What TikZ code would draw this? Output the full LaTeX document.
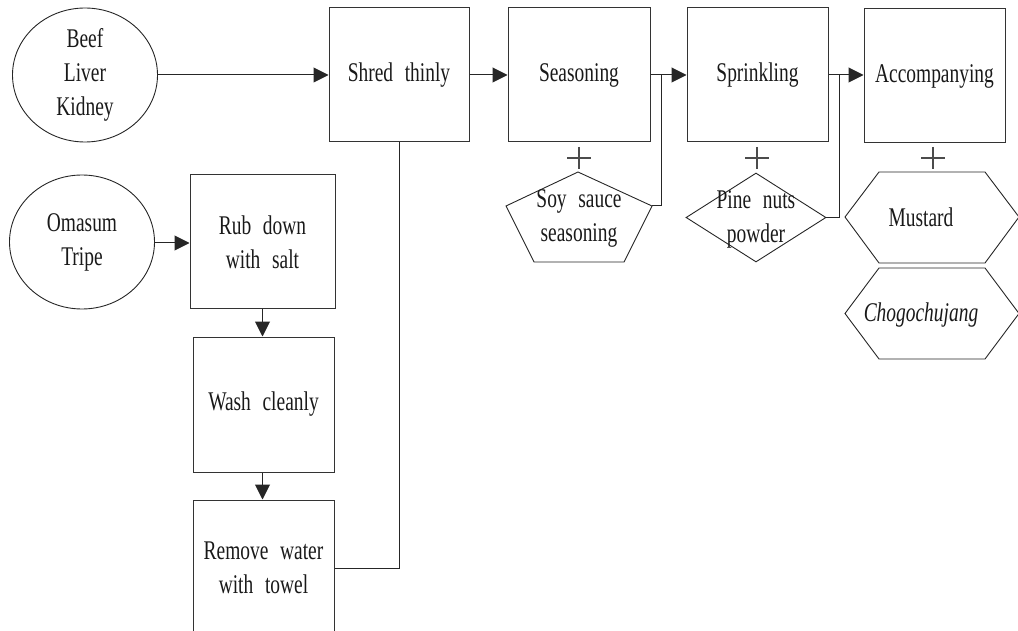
\documentclass[tikz,border=0pt]{standalone}
\usepackage{fontspec}
\setmainfont{Liberation Serif}[FakeStretch=0.72, WordSpace=2.4]
\usetikzlibrary{arrows.meta,shapes.geometric}

\tikzset{
  txt/.style={align=center, inner sep=0pt, text=black!90},
  stepbox/.style={draw=black!80, line width=1pt, rectangle, txt},
  src/.style={draw=black!85, line width=0.9pt, ellipse, txt, minimum width=145pt, minimum height=134pt},
  flow/.style={draw=black!85, line width=1pt, -{Triangle[length=15pt,width=15pt]}},
  link/.style={draw=black!85, line width=1pt},
  outline/.style={draw=black!85, line width=0.9pt, line join=miter},
  plusmark/.style={draw=black!70, line width=2.4pt}
}

\begin{document}
\begin{tikzpicture}[x=1pt, y=-1pt, font=\fontsize{27}{34}\selectfont]
\useasboundingbox (0,0) rectangle (1018,631);
\clip (0,0) rectangle (1018,631);

% raw materials
\node[src] (beef) at (85,75) {Beef\\Liver\\Kidney};
\node[src] (omasum) at (82,242) {Omasum\\Tripe};

% main processing line
\node[stepbox, minimum width=140pt, minimum height=134pt] (shred) at (399,75) {Shred thinly};
\node[stepbox, minimum width=142pt, minimum height=134pt] (seas) at (579,75) {Seasoning};
\node[stepbox, minimum width=141pt, minimum height=134pt] (spr) at (757.5,75) {Sprinkling};
\node[stepbox, minimum width=141pt, minimum height=134pt] (acc) at (934.5,76) {Accompanying};

% pre-treatment of omasum and tripe
\node[stepbox, minimum width=145pt, minimum height=134pt] (rub) at (262.5,242) {Rub down\\with salt};
\node[stepbox, minimum width=141pt, minimum height=135pt] (wash) at (263.5,404.5) {Wash cleanly};
\node[stepbox, minimum width=141pt, minimum height=136pt] (remove) at (263.5,568) {Remove water\\with towel};

% additions
\coordinate (soyR) at (652,206);
\draw[outline] (578,172) -- (soyR) -- (624,262) -- (534,262) -- (506,206) -- cycle;
\node[txt] (soy) at (579,218.5) {Soy sauce\\seasoning};

\node[diamond, outline, minimum width=140pt, minimum height=89pt, inner sep=0pt] (pine) at (756,217.5) {};
\node[txt] at (756,219.5) {Pine nuts\\powder};

\coordinate (mustL) at (845,217);
\draw[outline] (mustL) -- (879,172) -- (985,172) -- (1019,217) -- (985,263) -- (879,263) -- cycle;
\node[txt] (mustard) at (921,217) {Mustard};

\draw[outline] (845,313.5) -- (879,268) -- (985,268) -- (1019,313.5) -- (985,359) -- (879,359) -- cycle;
\node[txt] (choco) at (921,315) {\itshape Chogochujang};

% plus signs
\foreach \px in {579,757,933}{
  \draw[plusmark] (\px-12,158) -- (\px+12,158) (\px,147) -- (\px,169);
}

% connectors
\draw[flow] (beef.east |- shred.west) -- (shred.west);
\draw[flow] (shred.east) -- (seas.west);
\draw[flow] (seas.east) -- (spr.west);
\draw[flow] (spr.east) -- (spr.east -| acc.west);
\draw[flow] (omasum.east |- 0,243) -- (rub.west |- 0,243);
\draw[flow] (rub.south) -- (rub.south |- wash.north);
\draw[flow] (rub.south |- wash.south) -- (rub.south |- remove.north);
\draw[link] (remove.east) -| (shred.south);

\coordinate (j1) at (661,75);
\coordinate (j2) at (839,75);
\draw[link] (j1) |- (soyR);
\draw[link] (j2) |- (pine.east);
\end{tikzpicture}
\end{document}
